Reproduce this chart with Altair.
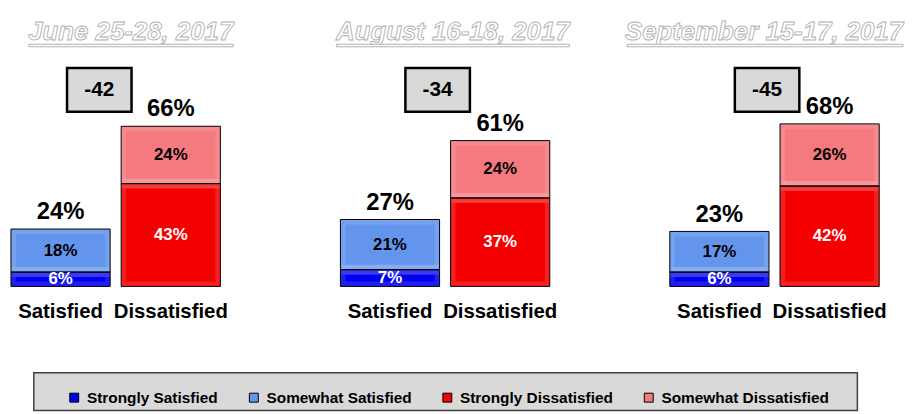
import altair as alt
import pandas as pd

# ---------------- data ----------------
dates = ["June 25-28, 2017", "August 16-18, 2017", "September 15-17, 2017"]
bars = ["Satisfied", "Dissatisfied"]
segments = ["Strongly Satisfied", "Somewhat Satisfied",
            "Strongly Dissatisfied", "Somewhat Dissatisfied"]
strongly_satisfied = [6, 7, 6]
somewhat_satisfied = [18, 21, 17]
strongly_dissatisfied = [43, 37, 42]
somewhat_dissatisfied = [24, 24, 26]
total_satisfied = [24, 27, 23]
total_dissatisfied = [66, 61, 68]

colors = ["#0000f0", "#6495ed", "#f40000", "#f47a7f"]
text_colors = ["white", "black", "white", "black"]

# ---------------- layout ----------------
FONT = "Liberation Sans"
PANEL_W, PANEL_H = 211, 277
YMAX = 115
title_rights = [224, 231, 235]
title_widths = [206, 235, 278]
box_centers = [89, 98, 98]

yscale = alt.Scale(domain=[0, YMAX], nice=False, zero=True)

x_enc = alt.X(
    "bar:N", sort=bars,
    scale=alt.Scale(paddingInner=0.1, paddingOuter=0),
    axis=alt.Axis(title=None, labelAngle=0, domain=False, ticks=False,
                  labelFont=FONT, labelFontSize=20.5, labelFontWeight="bold",
                  labelColor="black", labelPadding=15, labelOverlap=False,
                  grid=False),
)

legend = alt.Legend(
    orient="none", legendX=56, legendY=381, direction="horizontal", columns=4,
    title=None, symbolType="square", symbolSize=81, symbolStrokeColor="black",
    symbolStrokeWidth=1, labelFont=FONT, labelFontSize=15.5,
    labelFontWeight="bold", labelColor="black", labelOffset=5,
    columnPadding=28, padding=0, labelLimit=400,
)


def panel(i):
    vals = [strongly_satisfied[i], somewhat_satisfied[i],
            strongly_dissatisfied[i], somewhat_dissatisfied[i]]
    seg = pd.DataFrame({
        "bar": ["Satisfied", "Satisfied", "Dissatisfied", "Dissatisfied"],
        "seg": segments,
        "value": vals,
        "order": [0, 1, 0, 1],
        "tcolor": text_colors,
    })
    seg["label"] = seg["value"].astype(str) + "%"
    tot = pd.DataFrame({
        "bar": bars,
        "top": [vals[0] + vals[1], vals[2] + vals[3]],
        "label": [f"{total_satisfied[i]}%", f"{total_dissatisfied[i]}%"],
    })
    info = pd.DataFrame({
        "date": [dates[i]],
        "diff": [str(total_satisfied[i] - total_dissatisfied[i])],
    })

    ybar = alt.Y("value:Q", stack="zero", scale=yscale, axis=None)
    order = alt.Order("order:Q", sort="ascending")
    bar_layer = alt.Chart(seg).mark_bar(strokeWidth=0).encode(
        x=x_enc, y=ybar,
        color=alt.Color("seg:N", scale=alt.Scale(domain=segments, range=colors),
                        legend=legend),
        order=order,
    )
    bevel = alt.Chart(seg).mark_bar(
        fill=None, fillOpacity=0, stroke="white", strokeOpacity=0.12,
        strokeWidth=10, clip=True,
    ).encode(x=x_enc, y=ybar, order=order)
    outline = alt.Chart(seg).mark_bar(
        fill=None, fillOpacity=0, stroke="black", strokeWidth=1
    ).encode(x=x_enc, y=ybar, order=order)
    seg_text = alt.Chart(seg).transform_stack(
        stack="value", groupby=["bar"],
        sort=[alt.SortField("order", "ascending")], as_=["y0", "y1"],
    ).transform_calculate(mid="(datum.y0 + datum.y1) / 2").mark_text(
        font=FONT, fontSize=17, fontWeight="bold", baseline="middle"
    ).encode(
        x=x_enc,
        y=alt.Y("mid:Q", scale=yscale, axis=None),
        fill=alt.Fill("tcolor:N", scale=None),
        text="label:N",
    )
    tot_text = alt.Chart(tot).mark_text(
        font=FONT, fontSize=24, fontWeight="bold", baseline="middle", dy=-17,
        color="black",
    ).encode(
        x=x_enc,
        y=alt.Y("top:Q", scale=yscale, axis=None),
        text="label:N",
    )
    bc = box_centers[i]
    box = alt.Chart(info).mark_rect(fill="#d9d9d9", stroke="black", strokeWidth=2.5).encode(
        x=alt.value(bc - 32.5), x2=alt.value(bc + 32.5),
        y=alt.value(57), y2=alt.value(101),
    )
    diff = alt.Chart(info).mark_text(
        font=FONT, fontSize=21, fontWeight="bold", baseline="middle", color="black"
    ).encode(x=alt.value(bc), y=alt.value(79), text="diff:N")
    tr = title_rights[i]
    title = alt.Chart(info).mark_text(
        font=FONT, fontSize=26, fontStyle="italic", fontWeight="bold",
        fill="white", stroke="#b0b0b0", strokeWidth=0.9, align="right",
        baseline="alphabetic",
    ).encode(x=alt.value(tr), y=alt.value(29), text="date:N")
    underline = alt.Chart(info).mark_rect(
        fill="white", stroke="#b0b0b0", strokeWidth=1
    ).encode(
        x=alt.value(tr - title_widths[i]), x2=alt.value(tr),
        y=alt.value(33), y2=alt.value(35.5),
    )
    layers = [bar_layer, bevel, outline, seg_text, tot_text, box, diff, title, underline]
    if i == 0:
        legend_box = alt.Chart(info).mark_rect(
            fill="#d9d9d9", stroke="#404040", strokeWidth=1.5
        ).encode(x=alt.value(23), x2=alt.value(853),
                 y=alt.value(364), y2=alt.value(402))
        layers = [legend_box] + layers
    return alt.layer(*layers).properties(width=PANEL_W, height=PANEL_H)


chart = alt.hconcat(
    *[panel(i) for i in range(3)], spacing=121, bounds="flush"
).properties(
    padding={"left": 2, "top": 2, "right": 2, "bottom": 0}
).configure_view(stroke=None)

chart.save("out.html", embed_options={"renderer": "svg", "actions": False})
